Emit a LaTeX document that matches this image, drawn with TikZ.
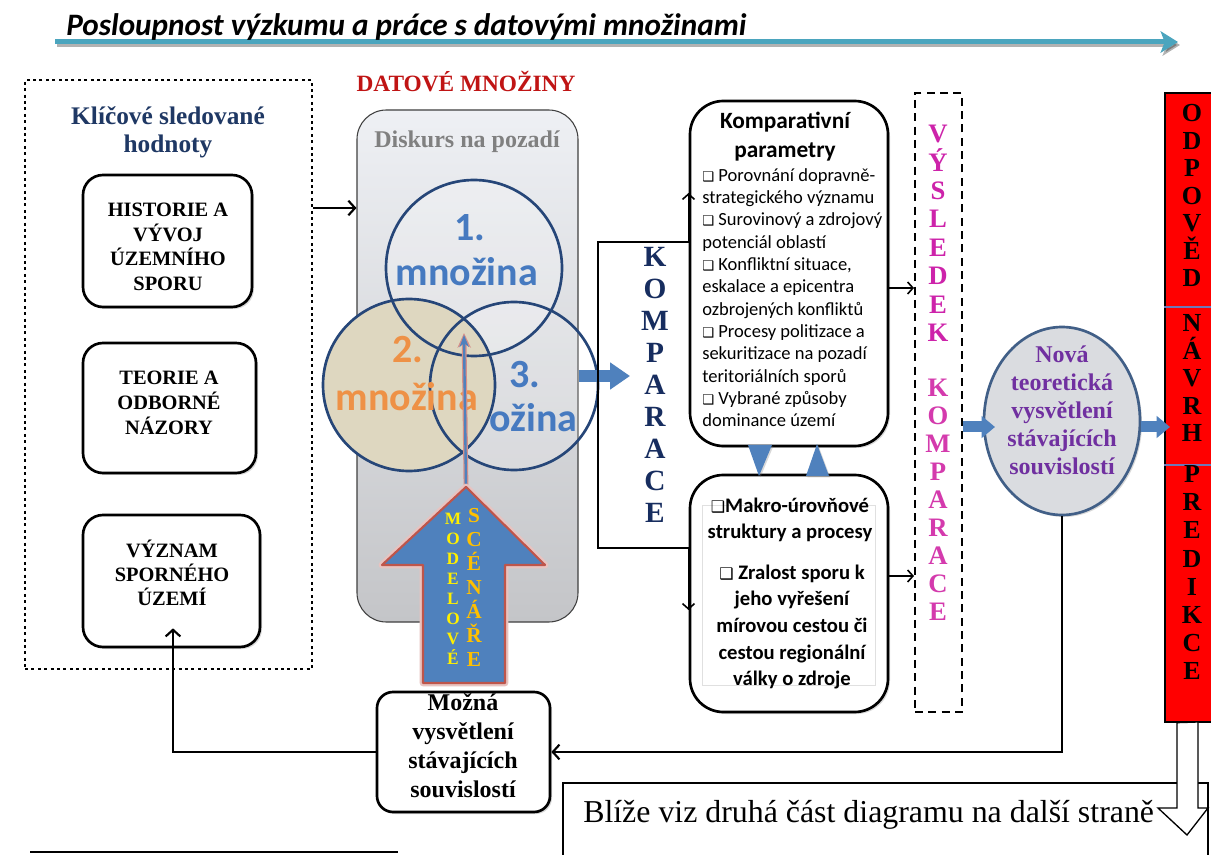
\documentclass[tikz,border=0pt]{standalone}
\usepackage{fontspec}
\setmainfont{Liberation Serif}
\newfontfamily\calib{Carlito}
\newfontfamily\djv{DejaVu Sans}
\usetikzlibrary{arrows.meta,shadows,shapes.geometric,calc}
\definecolor{teal1}{RGB}{75,165,190}
\definecolor{navy1}{RGB}{31,56,100}
\definecolor{dred}{RGB}{192,20,20}
\definecolor{circ}{RGB}{38,70,120}
\definecolor{setblue}{RGB}{70,122,192}
\definecolor{setorange}{RGB}{238,145,70}
\definecolor{tan1}{RGB}{222,215,192}
\definecolor{abl}{RGB}{79,129,189}
\definecolor{aredb}{RGB}{190,85,75}
\definecolor{kompnavy}{RGB}{23,45,95}
\definecolor{magen}{RGB}{205,35,170}
\definecolor{purp}{RGB}{112,48,160}
\definecolor{ellfill}{RGB}{218,220,224}
\definecolor{elldraw}{RGB}{65,95,135}
\definecolor{divl}{RGB}{110,120,185}
\definecolor{ylw}{RGB}{255,240,0}
\definecolor{org}{RGB}{255,192,0}
\definecolor{grayT}{RGB}{238,240,244}
\definecolor{grayB}{RGB}{196,197,200}
\definecolor{gtext}{RGB}{128,128,128}
\newcommand{\bx}[1][10]{{\djv\fontsize{#1}{#1}\selectfont ❑}}
\tikzset{
  rbox/.style={draw, line width=2pt, rounded corners=15pt, fill=white,
    drop shadow={shadow xshift=1.5pt, shadow yshift=-1.5pt, opacity=.3},
    align=center, inner sep=0pt},
  arr/.style={line width=2pt, -{Straight Barb[length=5pt,width=11pt,line width=1.6pt]}},
  thinarr/.style={line width=1.2pt, -{Straight Barb[length=4pt,width=9pt,line width=1.2pt]}},
  blkarr/.style={draw=abl, line width=6.75pt, -{Triangle[length=14pt,width=19.5pt]}},
  ln/.style={inner sep=0pt, text height=.7em, text depth=.2em},
  vlet/.style={inner sep=0pt, text height=.72em, text depth=0pt},
  setfont/.style={inner sep=0pt, font=\calib\bfseries\fontsize{30}{30}\selectfont},
  circline/.style={draw=circ, line width=2pt},
}
\begin{document}
\begin{tikzpicture}[x=0.75pt,y=-0.75pt]
\useasboundingbox[fill=white] (0,0) rectangle (1211,855);

% ---------- title with arrow
\coordinate (ta) at (55,42);
\coordinate (tb) at (1178,42);
\draw[black, opacity=.3, line width=3.75pt, -{Stealth[length=13pt,width=16pt,inset=3pt]}] ($(ta)+(2,3)$) -- ($(tb)+(2,3)$);
\draw[teal1, line width=3.75pt, -{Stealth[length=13pt,width=16pt,inset=3pt]}] (ta) -- (tb);
\node[anchor=base west, inner sep=0pt, font=\calib\bfseries\itshape\fontsize{23.4}{23.4}\selectfont] (title) at (66,36) {Posloupnost výzkumu a práce s datovými množinami};

% ---------- left dotted box
\node[draw, line width=2.2pt, dash pattern=on 2.2pt off 2.6pt, minimum width=215.25pt, minimum height=441.75pt, inner sep=0pt] (kl) at (168.5,374.5) {};
\node[align=center, text=navy1, font=\bfseries\fontsize{19}{21}\selectfont] (klt) at (168,132) {Klíčové sledované\\hodnoty};
\node[rbox, minimum width=126.75pt, minimum height=99pt] (b1) at (167.5,241) {};
\node[align=center, inner sep=0pt, font=\bfseries\fontsize{15.3}{18.5}\selectfont] (b1t) at (168,247) {HISTORIE A\\VÝVOJ\\ÚZEMNÍHO\\SPORU};
\node[rbox, minimum width=129.75pt, minimum height=97.5pt] (b2) at (169.5,408) {};
\node[align=center, inner sep=0pt, font=\bfseries\fontsize{15.3}{18.5}\selectfont] (b2t) at (169,403) {TEORIE A\\ODBORNÉ\\NÁZORY};
\node[rbox, minimum width=132.75pt, minimum height=99pt] (b3) at (171.5,581) {};
\node[align=center, inner sep=0pt, font=\bfseries\fontsize{15.3}{18}\selectfont] (b3t) at (172,573) {VÝZNAM\\SPORNÉHO\\ÚZEMÍ};

% ---------- data sets
\node[text=dred, inner sep=0pt, font=\bfseries\fontsize{17.5}{17.5}\selectfont] (dm) at (466,82) {DATOVÉ MNOŽINY};
\node[draw=black!75, line width=.8pt, rounded corners=22pt, top color=grayT, bottom color=grayB, minimum width=165.75pt, minimum height=384pt, inner sep=0pt] (disk) at (467.5,366) {};
\node[text=gtext, inner sep=0pt, font=\bfseries\fontsize{18}{18}\selectfont] (diskt) at (467,142) {Diskurs na pozadí};
\draw[arr] (kl.east |- 0,208) -- (disk.west |- 0,208);

% circles
\node[circle, minimum size=126pt, inner sep=0pt, fill=white, fill opacity=.18] (c3) at (514,386) {};
\node[circle, minimum size=132pt, inner sep=0pt, fill=white, fill opacity=.22] (c1) at (474,268) {};
\node[circle, minimum size=129pt, inner sep=0pt, fill=tan1] (c2) at (409,385) {};
\draw[circline] (c1.center) circle[radius=88];
\draw[circline] (c2.center) circle[radius=86];
\draw[circline] (c3.center) circle[radius=84];
\node[setfont, text=setblue] (c1a) at (470,228) {1.};
\node[setfont, text=setblue] (c1b) at (467,272) {množina};
\node[setfont, text=setorange] (c2a) at (408,350) {2.};
\node[setfont, text=setorange] (c2b) at (407,397) {množina};
\node[setfont, text=setblue] (c3a) at (525,375) {3.};
\node[setfont, text=setblue, anchor=west] (c3b) at (489,418) {ožina};

% scenario arrow
\coordinate (bigtip) at (466,487);
\coordinate (thintip) at (464,333);
\draw[line width=3.6pt, draw=aredb!65, -{Stealth[length=11pt,width=10pt]}] (bigtip) -- (thintip);
\draw[line width=1.8pt, draw=abl, -{Stealth[length=9pt,width=7pt]}] (bigtip) -- ($(thintip)+(0,2)$);
\draw[line width=5pt, draw=aredb!35, line join=round] (bigtip) -- (545,565) -- (505,565) -- (505,683) -- (423,683) -- (423,565) -- (382,565) -- cycle;
\draw[fill=abl, draw=aredb, line width=1.6pt, line join=round] (bigtip) -- (545,565) -- (505,565) -- (505,683) -- (423,683) -- (423,565) -- (382,565) -- cycle;
\foreach \l [count=\i from 0] in {M,O,D,E,L,O,V,É}
  \node[vlet, text=ylw, font=\bfseries\fontsize{13}{13}\selectfont] (mo\i) at (453,520+20*\i) {\l};
\foreach \l [count=\i from 0] in {S,C,É,N,Á,Ř,E}
  \node[vlet, text=org, font=\bfseries\fontsize{16}{16}\selectfont] (sc\i) at (474,518+24*\i) {\l};

% blue arrow into comparison
\draw[blkarr, line width=9pt, -{Triangle[length=15pt,width=19.5pt]}] (disk.east |- 0,376) -- (630,376);

% ---------- KOMPARACE bracket
\node[rbox, rounded corners=25pt, minimum width=148.5pt, minimum height=258.75pt] (kp) at (789,273.5) {};
\node[rbox, rounded corners=25pt, minimum width=148.5pt, minimum height=177.75pt] (low) at (789,593.5) {};
\draw[black!12, line width=.6pt] (702,505) rectangle (875,685);
\coordinate (brT) at (688.5,242);
\coordinate (brB) at (688.5,548);
\draw[line width=1.5pt] (kp.west |- brT) -- (598,242) -- (598,548) -- (low.west |- brB);
\draw[thinarr] (brT) -- (688.5,193);
\draw[thinarr] (brB) -- (688.5,610);
\foreach \l [count=\i from 0] in {K,O,M,P,A,R,A,C,E}
  \node[vlet, text=kompnavy, font=\bfseries\fontsize{22}{22}\selectfont] (ka\i) at (655,262+32*\i) {\l};

% comparative parameters
\node[align=center, inner sep=0pt, font=\calib\bfseries\fontsize{17.5}{21.75}\selectfont] (kpt) at (785,137) {Komparativní\\parametry};
\foreach \t [count=\i from 0] in {
  {\bx\ Porovnání dopravně-},
  {strategického významu},
  {\bx\ Surovinový a zdrojový},
  {potenciál oblastí},
  {\bx\ Konfliktní situace,},
  {eskalace a epicentra},
  {ozbrojených konfliktů},
  {\bx\ Procesy politizace a},
  {sekuritizace na pozadí},
  {teritoriálních sporů},
  {\bx\ Vybrané způsoby},
  {dominance území}}
  \node[ln, anchor=west, font=\calib\fontsize{13.9}{16}\selectfont] (kt\i) at (702,178+22.3*\i) {\t};

\node[align=center, inner sep=0pt, font=\calib\bfseries\fontsize{15.5}{20}\selectfont] (lt1) at (790,520) {\bx[12]Makro-úrovňové\\struktury a procesy};
\node[align=center, inner sep=0pt, font=\calib\bfseries\fontsize{15.5}{20}\selectfont] (lt2) at (792,627) {\bx[12] Zralost sporu k\\jeho vyřešení\\mírovou cestou či\\cestou regionální\\války o zdroje};

% triangles between boxes
\fill[abl, drop shadow={shadow xshift=1pt, shadow yshift=-1pt, opacity=.3}] (748,445) -- (772,445) -- (759,476) -- cycle;
\fill[abl, drop shadow={shadow xshift=1pt, shadow yshift=-1pt, opacity=.3}] (806,476) -- (829,476) -- (817,444) -- cycle;

% ---------- result of comparison
\node[draw, line width=1.5pt, dash pattern=on 6pt off 4pt, minimum width=35.25pt, minimum height=464.25pt, inner sep=0pt] (dash) at (938.5,402.5) {};
\draw[thinarr] (kp.east |- 0,288) -- (dash.west |- 0,288);
\draw[thinarr] (low.east |- 0,576) -- (dash.west |- 0,576);
\foreach \l [count=\i from 0] in {V,Ý,S,L,E,D,E,K}
  \node[vlet, text=magen, font=\bfseries\fontsize{20}{20}\selectfont] (vy\i) at (938,138+28.4*\i) {\l};
\foreach \l [count=\i from 0] in {K,O,M,P,A,R,A,C,E}
  \node[vlet, text=magen!85!pink, font=\bfseries\fontsize{20}{20}\selectfont] (vk\i) at (938,392+28*\i) {\l};

% ---------- new explanation
\node[ellipse, draw=elldraw, line width=2pt, fill=ellfill, minimum width=117pt, minimum height=141pt, inner sep=0pt, drop shadow={shadow xshift=1.5pt, shadow yshift=-1.5pt, opacity=.3}] (nova) at (1062,421) {};
\node[align=center, inner sep=0pt, text=purp, font=\bfseries\fontsize{18}{21}\selectfont] (novat) at (1062,410) {Nová\\teoretická\\vysvětlení\\stávajících\\souvislostí};
\draw[blkarr, line width=8.25pt, -{Triangle[length=10pt,width=16pt]}] (dash.east |- 0,427) -- (995,427);

% ---------- red bar
\node[draw, line width=1pt, fill=red, minimum width=41.25pt, minimum height=471.75pt, inner sep=0pt] (red) at (1192.5,407.5) {};
\draw[divl, line width=.8pt] (red.west |- 0,307) -- (1211,307);
\draw[divl, line width=.8pt] (red.west |- 0,465) -- (1211,465);
\draw[blkarr, line width=8.25pt, -{Triangle[length=10pt,width=16pt]}] (nova.east |- 0,427) -- (1170,427);
\foreach \l [count=\i from 0] in {O,D,P,O,V,Ě,D}
  \node[vlet, font=\bfseries\fontsize{19.5}{19.5}\selectfont] (od\i) at (1192,117+27.5*\i) {\l};
\foreach \l [count=\i from 0] in {N,Á,V,R,H}
  \node[vlet, font=\bfseries\fontsize{19.5}{19.5}\selectfont] (na\i) at (1192,327+27.5*\i) {\l};
\foreach \l [count=\i from 0] in {P,R,E,D,I,K,C,E}
  \node[vlet, font=\bfseries\fontsize{19.5}{19.5}\selectfont] (pr\i) at (1192,478+28.1*\i) {\l};

% ---------- possible explanations
\node[rbox, rounded corners=12pt, minimum width=129.75pt, minimum height=90pt] (mozna) at (463.5,752) {};
\node[align=center, inner sep=0pt, font=\bfseries\fontsize{18}{21.75}\selectfont] (moznat) at (463,746) {Možná\\vysvětlení\\stávajících\\souvislostí};
\coordinate (fbk) at (1062,752);
\draw[arr] (nova.south) -- (fbk) -- (mozna.east);
\coordinate (lup) at (173,752);
\draw[arr] (mozna.west) -- (lup) -- ($(b3.south)+(1.5,-20)$);

% ---------- bottom note
\draw[line width=1pt] (563,870) -- (563,783) -- (1208,783) -- (1208,870);
\node[anchor=base west, inner sep=0pt, font=\fontsize{23.9}{23.9}\selectfont] (blize) at (583,822) {Blíže viz druhá část diagramu na další straně};
\draw[line width=1pt, fill=white] (red.south -| 1177,0) -- (1198,722) -- (1198,808) -- (1208,808) -- (1187,835) -- (1158,808) -- (1177,808) -- cycle;
\draw[line width=1.6pt] (30,852) -- (398,852);
\end{tikzpicture}
\end{document}
